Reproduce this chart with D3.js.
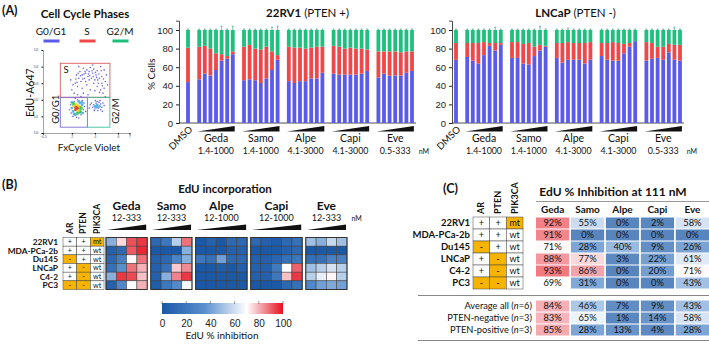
<!DOCTYPE html>
<html>
<head>
<meta charset="utf-8">
<script src="https://cdn.jsdelivr.net/npm/d3@7"></script>
<style>
body { margin: 0; background: #fff; }
svg { display: block; font-family: Lato, "Open Sans", sans-serif; }
</style>
</head>
<body>
<svg id="fig" width="709" height="345"></svg>
<script>
// ---- data ----
var drugs = ["Geda", "Samo", "Alpe", "Capi", "Eve"];
var barDoses = ["1.4-1000", "1.4-1000", "4.1-3000", "4.1-3000", "0.5-333"];
var phaseNames = ["G0/G1", "S", "G2/M"];
var phaseColors = ["#5b5be9", "#ef4848", "#1fbf7e"];
var yTicks = [0, 20, 40, 60, 80, 100];

// 22RV1 (% cells), DMSO then 7 doses per drug
var rvDmso = [44, 37];
var rvG1 = [[47, 53, 51, 57, 67, 69, 74], [46, 47, 46, 43, 48, 57, 68], [45, 43, 45, 45, 48, 48, 54], [53, 52, 52, 52, 52, 53, 56], [49, 53, 51, 51, 51, 54, 56]];
var rvS = [[35, 30, 29, 18, 7, 3, 3], [36, 37, 34, 36, 34, 20, 5], [37, 38, 36, 35, 33, 34, 28], [30, 30, 28, 29, 28, 27, 23], [28, 24, 26, 26, 25, 23, 21]];
var rvErr = [[1, 1, 1, 1, 4, 1, 4], [1, 1, 1, 1, 1, 3, 4], [1, 1, 1, 1, 1, 1, 1], [1, 1, 1, 1, 1, 1, 1], [1, 1, 1, 1, 1, 1, 1]];

// LNCaP (% cells)
var lnDmso = [68, 18];
var lnG1 = [[71, 67, 64, 73, 83, 78, 84], [70, 70, 64, 63, 72, 78, 82], [70, 65, 68, 68, 68, 64, 68], [72, 68, 67, 67, 75, 82, 88], [67, 69, 70, 68, 76, 68, 67]];
var lnS = [[15, 19, 22, 14, 3, 8, 2], [17, 17, 21, 23, 10, 6, 1], [16, 21, 19, 18, 18, 22, 19], [14, 18, 20, 19, 10, 4, 0], [20, 17, 12, 14, 9, 16, 17]];
var lnErr = [[1, 1, 1, 1, 1, 3, 1], [1, 1, 1, 1, 1, 4, 1], [1, 1, 2, 1, 1, 1, 1], [1, 1, 1, 1, 1, 1, 1], [1, 1, 1, 1, 1, 3, 1]];

// flow cytometry gate example: [FxCycle, EdU (log decades), density class]
var flowG1 = [[2.3,1.4,4],[2.5,1.5,4],[2.6,1.6,3],[2.4,1.7,3],[2.7,1.3,2],[2.2,1.6,3],[2.5,1.2,2],[2.8,1.5,2],[2.1,1.3,1],[2.6,1.9,1],[2.3,1.1,1],[2.9,1.7,1],[2.0,1.5,1],[2.4,1.45,4],[2.55,1.35,3],[2.45,1.65,3],[2.65,1.55,2],[2.35,1.55,4],[2.7,1.8,1],[2.2,1.9,0],[3.0,1.4,0],[1.9,1.7,0],[2.5,2.0,0],[2.8,1.1,0],[2.1,1.0,0],[3.1,1.6,0],[1.8,1.4,0],[2.6,0.9,0],[2.3,2.1,0],[2.9,1.95,0],[2.15,1.75,2],[2.75,1.25,1],[3.2,1.3,0],[1.95,1.2,0],[2.0,1.85,1],[2.85,1.85,1],[2.95,1.2,1],[2.2,1.15,1],[2.4,0.95,0],[3.05,1.8,0]];
var flowG2 = [[4.0,1.6,1],[4.2,1.7,1],[4.4,1.6,1],[4.1,1.8,0],[4.3,1.5,0],[4.5,1.75,0],[3.9,1.7,0],[4.6,1.55,0],[4.2,1.9,0],[4.0,1.45,0],[4.7,1.8,0],[3.8,1.55,0],[4.35,1.85,0],[4.15,1.55,1],[4.5,1.4,0],[4.8,1.65,0],[3.7,1.8,0],[4.25,1.35,0],[3.5,1.5,0],[3.6,1.7,0],[4.05,1.95,0],[4.45,1.95,0],[3.95,1.35,0],[4.65,1.3,0]];
var flowS = [[2.0,2.6],[2.3,3.0],[2.6,3.3],[2.9,3.5],[3.2,3.6],[3.5,3.7],[3.8,3.6],[4.1,3.5],[4.4,3.3],[4.6,3.0],[4.8,2.7],[2.5,2.8],[2.8,3.1],[3.1,3.3],[3.4,3.4],[3.7,3.3],[4.0,3.2],[4.3,3.0],[4.5,2.6],[2.2,2.4],[2.7,3.7],[3.0,3.9],[3.3,3.8],[3.6,3.95],[3.9,3.85],[4.2,3.75],[4.6,3.4],[4.9,3.1],[2.4,3.5],[3.2,3.1],[3.9,3.0],[4.7,2.4],[2.1,2.9],[3.5,3.2],[4.2,2.8],[2.9,2.7],[3.6,2.6],[4.4,2.45],[2.5,2.3],[3.0,2.4],[3.3,2.9],[4.0,2.55],[5.0,3.5],[4.8,3.8],[2.6,4.0],[3.8,4.1],[4.5,4.0],[3.4,2.3],[2.8,2.2],[4.9,2.2],[5.1,2.9],[1.9,3.2],[2.35,3.25],[2.75,3.45],[3.15,3.7],[3.45,3.55],[3.75,3.75],[4.05,3.65],[4.35,3.55],[4.75,3.25],[2.55,3.6],[3.05,3.55],[3.55,3.45],[4.15,3.35],[4.55,3.75],[2.45,3.05],[2.95,3.25],[3.85,3.4],[4.25,3.2],[4.65,2.85]];
var flowXTicks = [-0.5, 2, 4, 6, 7];
var densityColors = ["#4f4fe0", "#3fa6e3", "#39c24a", "#e6d21e", "#e23a1e"];

// EdU incorporation heatmap (% inhibition)
var cellLines = ["22RV1", "MDA-PCa-2b", "Du145", "LNCaP", "C4-2", "PC3"];
var arStatus = ["+", "+", "-", "+", "+", "-"];
var ptenStatus = ["+", "+", "+", "-", "-", "-"];
var pik3caStatus = ["mt", "wt", "wt", "wt", "wt", "wt"];
var heatDoses = ["12-333", "12-333", "12-1000", "12-1000", "12-333"];
var heatGeda = [[45,75,92,95],[5,10,91,97],[10,25,71,88],[15,35,88,80],[45,95,93,78],[5,30,69,80]];
var heatSamo = [[10,20,55,88],[0,0,0,45],[5,10,28,45],[5,15,77,85],[5,45,86,95],[3,20,31,68]];
var heatAlpe = [[0,5,0,10,10],[0,0,0,5,5],[20,15,40,10,10],[0,0,3,0,5],[0,0,0,0,0],[0,0,0,0,0]];
var heatCapi = [[10,5,2,10,15],[0,0,0,5,10],[5,5,9,15,20],[5,5,22,70,90],[5,5,20,78,95],[0,0,0,10,15]];
var heatEve = [[50,45,58,50],[0,0,0,0],[15,15,26,25],[50,55,61,55],[55,65,71,55],[30,40,43,40]];
var colorbarTicks = [0, 20, 40, 60, 80, 100];

// EdU % inhibition at 111 nM
var inh111 = [[92,55,0,2,58],[91,0,0,0,0],[71,28,40,9,26],[88,77,3,22,61],[93,86,0,20,71],[69,31,0,0,43]];
var summaryNames = [["Average all (", "n", "=6)"], ["PTEN-negative (", "n", "=3)"], ["PTEN-positive (", "n", "=3)"]];
var summaryVals = [[84,46,7,9,43],[83,65,1,14,58],[85,28,13,4,28]];

var svg = d3.select("#fig");
var orange = "#f6b400";
var heatColor = d3.scaleLinear().domain([0, 35, 70, 85, 100])
    .range(["#1b58a6", "#5a8fce", "#ffffff", "#f08a92", "#e8101c"]);

function label(x, y, t, size, weight, anchor) {
    return svg.append("text").attr("x", x).attr("y", y).attr("font-size", size)
        .attr("font-weight", weight || "normal").attr("text-anchor", anchor || "middle")
        .attr("fill", "#111").text(t);
}
function vlabel(x, y, t, size, weight) {
    return svg.append("text").attr("transform", "translate(" + x + "," + y + ") rotate(-90)")
        .attr("font-size", size).attr("font-weight", weight || "normal").attr("dy", "0.35em")
        .attr("fill", "#111").text(t);
}

// ---------- panel A : flow plot ----------
label(2, 15, "(A)", 12.5, "bold", "start");
label(85, 18, "Cell Cycle Phases", 11.5, "bold");
var legX = [51, 87, 120];
phaseNames.forEach(function(p, i) {
    label(legX[i], 35, p, 10);
    svg.append("rect").attr("x", legX[i] - 7.5).attr("y", 39.5).attr("width", 16).attr("height", 3).attr("fill", phaseColors[i]);
});

var fx = d3.scaleLinear().domain([-0.5, 7]).range([43, 129.5]);
var fy = d3.scaleLinear().domain([0, 5]).range([133, 50]);
var fax = svg.append("g").attr("transform", "translate(0,133)")
    .call(d3.axisBottom(fx).tickValues(flowXTicks).tickSize(1.5).tickPadding(1).tickFormat(d3.format("")));
fax.selectAll("text").attr("font-size", 3.5).attr("fill", "#555");
var fay = svg.append("g").attr("transform", "translate(43,0)")
    .call(d3.axisLeft(fy).ticks(6).tickSize(1.5).tickFormat(function(d) { return "10" + d; }));
fay.selectAll("text").attr("font-size", 3).attr("fill", "#555");
svg.selectAll(".domain").attr("stroke", "#666").attr("stroke-width", 0.6);

var flowPts = flowS.map(function(d) { return [d[0], d[1], 0]; }).concat(flowG2).concat(flowG1);
flowPts.sort(function(a, b) { return a[2] - b[2]; });
svg.append("g").selectAll("circle").data(flowPts)
    .enter().append("circle")
    .attr("cx", function(d) { return fx(d[0]); })
    .attr("cy", function(d) { return fy(d[1]); })
    .attr("r", function(d) { return [0.8, 1.4, 1.9, 1.7, 1.4][d[2]]; })
    .attr("fill", function(d) { return densityColors[d[2]]; })
    .attr("opacity", 0.85);

// gates
svg.append("rect").attr("x", fx(1.0)).attr("y", fy(4.2)).attr("width", fx(5.3) - fx(1.0)).attr("height", fy(2.15) - fy(4.2))
    .attr("fill", "none").attr("stroke", "#e05a60").attr("stroke-width", 0.9);
svg.append("rect").attr("x", fx(1.0)).attr("y", fy(2.15)).attr("width", fx(3.35) - fx(1.0)).attr("height", fy(0.35) - fy(2.15))
    .attr("fill", "none").attr("stroke", "#7b6fd0").attr("stroke-width", 0.9);
svg.append("rect").attr("x", fx(3.35)).attr("y", fy(2.15)).attr("width", fx(5.3) - fx(3.35)).attr("height", fy(0.35) - fy(2.15))
    .attr("fill", "none").attr("stroke", "#3bbf9a").attr("stroke-width", 0.9);
label(fx(1.5), fy(3.6), "S", 9.5);
vlabel(fx(0.6), fy(0.55), "G0/G1", 9.5);
vlabel(fx(5.8), fy(0.55), "G2/M", 9.5);
vlabel(30, 117, "EdU-A647", 10.5);
label(89, 151, "FxCycle Violet", 10);

// ---------- panel A : stacked bars ----------
function barChart(nameBold, nameRest, axisX, dmsoX, dmso, g1, s, err, yTitle) {
    var x = d3.scaleLinear().domain([0, 40]).range([dmsoX, dmsoX + 40 * 5.6]);
    var y = d3.scaleLinear().domain([0, 110]).range([123, 20.7]);
    var bw = 3.8;
    var rows = [{ pos: 0, g1: dmso[0], s: dmso[1], e: 1 }];
    drugs.forEach(function(d, g) {
        g1[g].forEach(function(v, j) {
            rows.push({ pos: 2 + g * 8 + j, g1: v, s: s[g][j], e: err[g][j] });
        });
    });
    var ax = svg.append("g").attr("transform", "translate(" + axisX + ",0)")
        .call(d3.axisLeft(y).tickValues(yTicks).tickSize(3));
    ax.selectAll("text").attr("font-size", 9.5).attr("fill", "#222");
    ax.select(".domain").attr("stroke", "#222").attr("stroke-width", 0.8);
    ax.selectAll(".tick line").attr("stroke", "#222");
    svg.append("line").attr("x1", axisX).attr("x2", x(40) + 4).attr("y1", y(0)).attr("y2", y(0))
        .attr("stroke", "#222").attr("stroke-width", 0.8);
    if (yTitle) vlabel(axisX - 28, 90, yTitle, 10);

    var g = svg.append("g");
    rows.forEach(function(r) {
        var segs = [[0, r.g1], [r.g1, r.g1 + r.s], [r.g1 + r.s, 100]];
        segs.forEach(function(sg, k) {
            g.append("rect").attr("x", x(r.pos) - bw / 2).attr("width", bw)
                .attr("y", y(sg[1])).attr("height", y(sg[0]) - y(sg[1])).attr("fill", phaseColors[k]);
        });
        g.append("line").attr("x1", x(r.pos)).attr("x2", x(r.pos)).attr("y1", y(100)).attr("y2", y(100 + r.e))
            .attr("stroke", "#1a9a64").attr("stroke-width", 0.6);
        g.append("line").attr("x1", x(r.pos) - 1).attr("x2", x(r.pos) + 1).attr("y1", y(100 + r.e)).attr("y2", y(100 + r.e))
            .attr("stroke", "#1a9a64").attr("stroke-width", 0.6);
    });

    svg.append("text").attr("transform", "translate(" + (dmsoX + 3) + ",128) rotate(-45)")
        .attr("text-anchor", "end").attr("dy", "0.3em").attr("font-size", 9.5).attr("fill", "#111").text("DMSO");
    drugs.forEach(function(d, gi) {
        var x0 = x(2 + gi * 8) - bw / 2, x1 = x(8 + gi * 8) + bw / 2;
        svg.append("polygon").attr("points", [[x0, 131.5], [x1, 126], [x1, 131.5]].join(" ")).attr("fill", "#111");
        label((x0 + x1) / 2, 142, d, 10.5);
        label((x0 + x1) / 2, 154, barDoses[gi], 8.8);
    });
    label(x(40) + bw / 2 + 10, 154, "nM", 7);

    var t = svg.append("text").attr("x", (x(2) + x(40)) / 2 + 2).attr("y", 17).attr("text-anchor", "middle").attr("font-size", 11.5).attr("fill", "#111");
    t.append("tspan").attr("font-weight", "bold").text(nameBold);
    t.append("tspan").text(nameRest);
}
barChart("22RV1", " (PTEN +)", 179, 188, rvDmso, rvG1, rvS, rvErr, "% Cells");
barChart("LNCaP", " (PTEN -)", 452, 456, lnDmso, lnG1, lnS, lnErr, null);

// ---------- panel B : heatmap ----------
label(2, 189, "(B)", 12.5, "bold", "start");
label(225, 193, "EdU incorporation", 11.5, "bold");

var rowY = d3.scaleBand().domain(cellLines).range([237.5, 289.5]);
cellLines.forEach(function(c) {
    label(58, rowY(c) + rowY.bandwidth() / 2 + 3, c, 8.3, "bold", "end");
});
var genoCols = [arStatus, ptenStatus, pik3caStatus];
var genoNames = ["AR", "PTEN", "PIK3CA"];
var gx = d3.scaleBand().domain([0, 1, 2]).range([63, 104]);
genoCols.forEach(function(col, ci) {
    vlabel(gx(ci) + gx.bandwidth() / 2, 234, genoNames[ci], 8.5, "bold");
    col.forEach(function(v, ri) {
        var c = cellLines[ri];
        svg.append("rect").attr("x", gx(ci)).attr("y", rowY(c)).attr("width", gx.bandwidth()).attr("height", rowY.bandwidth())
            .attr("fill", (v === "-" || v === "mt") ? orange : "#fff").attr("stroke", "#444").attr("stroke-width", 0.5);
        label(gx(ci) + gx.bandwidth() / 2, rowY(c) + rowY.bandwidth() / 2 + 2.6, v, 7.2);
    });
});

var heatSets = [heatGeda, heatSamo, heatAlpe, heatCapi, heatEve];
var cellW = 10.3, groupGap = 3.6;
var hx0 = 106;
heatSets.forEach(function(set, gi) {
    var n = set[0].length;
    var cx = d3.scaleBand().domain(d3.range(n)).range([hx0, hx0 + n * cellW]);
    var g = svg.append("g");
    set.forEach(function(row, ri) {
        g.selectAll(null).data(row).enter().append("rect")
            .attr("x", function(d, j) { return cx(j); })
            .attr("y", rowY(cellLines[ri]))
            .attr("width", cx.bandwidth()).attr("height", rowY.bandwidth())
            .attr("fill", function(d) { return heatColor(d); })
            .attr("stroke", "#3a3a3a").attr("stroke-width", 0.5);
    });
    g.append("rect").attr("x", hx0).attr("y", 237.5).attr("width", n * cellW).attr("height", 52)
        .attr("fill", "none").attr("stroke", "#333").attr("stroke-width", 1);
    var mid = hx0 + n * cellW / 2;
    label(mid, 210, drugs[gi], 12, "bold");
    label(mid, 221, heatDoses[gi], 9);
    svg.append("polygon").attr("points", [[hx0 + 1, 230], [hx0 + n * cellW - 1, 224.5], [hx0 + n * cellW - 1, 230]].join(" ")).attr("fill", "#111");
    hx0 += n * cellW + groupGap;
});
label(hx0 + 6, 221, "nM", 7);

// colorbar
var cb = d3.scaleLinear().domain([0, 100]).range([162, 283]);
var grad = svg.append("defs").append("linearGradient").attr("id", "cbar");
d3.range(0, 101, 5).forEach(function(v) {
    grad.append("stop").attr("offset", v + "%").attr("stop-color", heatColor(v));
});
svg.append("rect").attr("x", cb(0)).attr("y", 303).attr("width", cb(100) - cb(0)).attr("height", 11).attr("fill", "url(#cbar)");
var cbAx = svg.append("g").attr("transform", "translate(0,314)")
    .call(d3.axisBottom(cb).tickValues(colorbarTicks).tickSize(0).tickPadding(6));
cbAx.select(".domain").remove();
cbAx.selectAll("text").attr("font-size", 10).attr("fill", "#222");
svg.append("g").selectAll("line").data(colorbarTicks).enter().append("line")
    .attr("x1", function(d) { return cb(d); }).attr("x2", function(d) { return cb(d); })
    .attr("y1", 301).attr("y2", 304).attr("stroke", "#555").attr("stroke-width", 0.6);
label(222, 339, "EdU % inhibition", 10);

// ---------- panel C : table ----------
label(443, 193, "(C)", 12.5, "bold", "start");
var tRow = d3.scaleBand().domain(cellLines).range([217, 289]);
var tCol = d3.scaleBand().domain(drugs).range([536, 709]).paddingInner(0.05);
var tgx = d3.scaleBand().domain([0, 1, 2]).range([473, 523]);
function tableColor(v) { return d3.interpolateRgb(heatColor(v), "#fff")(0.27); }

label(613, 196, "EdU % Inhibition at 111 nM", 12, "bold");
svg.append("line").attr("x1", 536).attr("x2", 709).attr("y1", 201.5).attr("y2", 201.5).attr("stroke", "#999").attr("stroke-width", 1);
drugs.forEach(function(d) { label(tCol(d) + tCol.bandwidth() / 2, 212.5, d, 10, "bold"); });

cellLines.forEach(function(c, ri) {
    var yy = tRow(c), h = tRow.bandwidth();
    label(470, yy + h / 2 + 3.3, c, 9.5, "bold", "end");
    genoCols.forEach(function(col, ci) {
        svg.append("rect").attr("x", tgx(ci)).attr("y", yy).attr("width", tgx.bandwidth()).attr("height", h)
            .attr("fill", (col[ri] === "-" || col[ri] === "mt") ? orange : "#fff").attr("stroke", "#444").attr("stroke-width", 0.5);
        label(tgx(ci) + tgx.bandwidth() / 2, yy + h / 2 + 3.2, col[ri], 9);
    });
    inh111[ri].forEach(function(v, j) {
        svg.append("rect").attr("x", tCol(drugs[j])).attr("y", yy + 0.5).attr("width", tCol.bandwidth()).attr("height", h - 1)
            .attr("fill", tableColor(v));
        label(tCol(drugs[j]) + tCol.bandwidth() / 2, yy + h / 2 + 3.3, v + "%", 9.3);
    });
});
genoNames.forEach(function(nm, ci) {
    vlabel(tgx(ci) + tgx.bandwidth() / 2, 214, nm, 9, "bold");
});

svg.append("line").attr("x1", 418).attr("x2", 709).attr("y1", 295.5).attr("y2", 295.5).attr("stroke", "#888").attr("stroke-width", 1);
var sRow = d3.scaleBand().domain([0, 1, 2]).range([300, 336]);
summaryNames.forEach(function(nm, ri) {
    var yy = sRow(ri), h = sRow.bandwidth();
    var t = svg.append("text").attr("x", 532).attr("y", yy + h / 2 + 3.3).attr("text-anchor", "end").attr("font-size", 9.3).attr("fill", "#111");
    t.append("tspan").text(nm[0]);
    t.append("tspan").attr("font-style", "italic").text(nm[1]);
    t.append("tspan").text(nm[2]);
    summaryVals[ri].forEach(function(v, j) {
        svg.append("rect").attr("x", tCol(drugs[j])).attr("y", yy + 0.5).attr("width", tCol.bandwidth()).attr("height", h - 1)
            .attr("fill", tableColor(v));
        label(tCol(drugs[j]) + tCol.bandwidth() / 2, yy + h / 2 + 3.3, v + "%", 9.3);
    });
});
svg.append("line").attr("x1", 418).attr("x2", 709).attr("y1", 340.5).attr("y2", 340.5).attr("stroke", "#888").attr("stroke-width", 1);
</script>
</body>
</html>
